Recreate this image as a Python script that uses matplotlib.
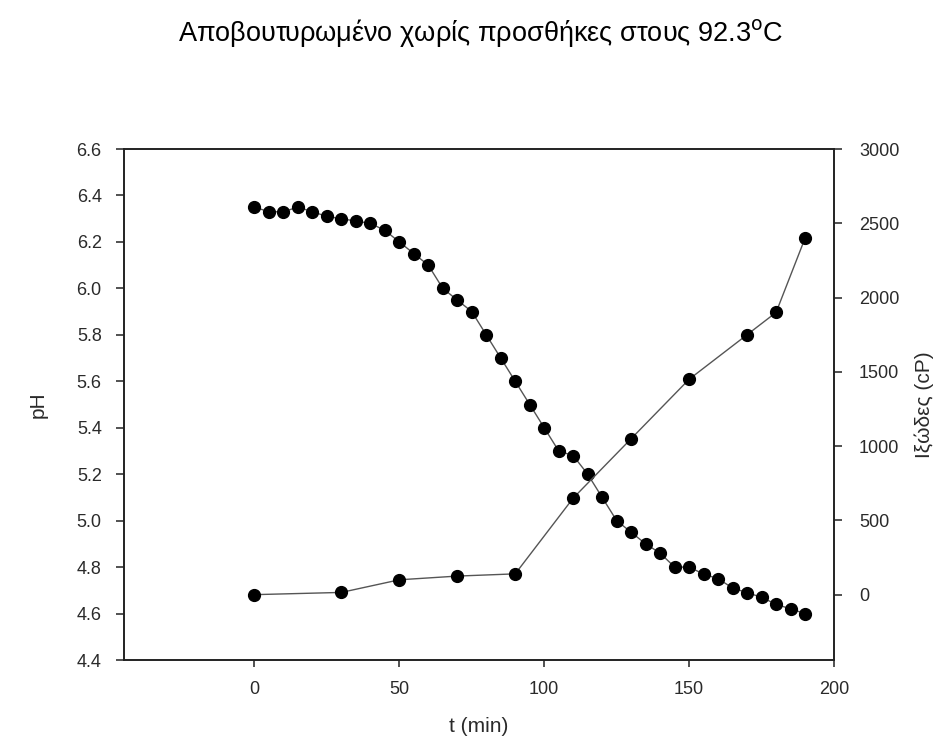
import matplotlib
matplotlib.use('Agg')
import matplotlib.pyplot as plt

plt.rcParams['font.family'] = ['Liberation Sans', 'DejaVu Sans']

# pH vs time (every 5 min)
t_ph = [0, 5, 10, 15, 20, 25, 30, 35, 40, 45, 50, 55, 60, 65, 70, 75, 80, 85, 90, 95,
        100, 105, 110, 115, 120, 125, 130, 135, 140, 145, 150, 155, 160, 165, 170,
        175, 180, 185, 190]
ph = [6.35, 6.33, 6.33, 6.35, 6.33, 6.31, 6.30, 6.29, 6.28, 6.25, 6.20, 6.15, 6.10,
      6.00, 5.95, 5.90, 5.80, 5.70, 5.60, 5.50, 5.40, 5.30, 5.28, 5.20, 5.10, 5.00,
      4.95, 4.90, 4.86, 4.80, 4.80, 4.77, 4.75, 4.71, 4.69, 4.67, 4.64, 4.62, 4.60]

# viscosity vs time
t_visc = [0, 30, 50, 70, 90, 110, 130, 150, 170, 180, 190]
visc = [0, 15, 100, 125, 140, 650, 1050, 1450, 1750, 1900, 2400]

fig = plt.figure(figsize=(9.42, 7.40), dpi=100)
ax = fig.add_axes([0.1316, 0.1081, 0.7538, 0.6905])
ax2 = ax.twinx()

line_kw = dict(color='#555555', lw=1.0, marker='o', markersize=8.5,
               markerfacecolor='black', markeredgecolor='black')
ax.plot(t_ph, ph, **line_kw)
ax2.plot(t_visc, visc, **line_kw)

ax.set_xlim(-45, 200)
ax.set_ylim(4.4, 6.6)
ax2.set_ylim(-440, 3000)

ax.set_xticks([0, 50, 100, 150, 200])
ax.set_yticks([4.4, 4.6, 4.8, 5.0, 5.2, 5.4, 5.6, 5.8, 6.0, 6.2, 6.4, 6.6])
ax.set_yticklabels(['%.1f' % v for v in ax.get_yticks()])
ax2.set_yticks([0, 500, 1000, 1500, 2000, 2500, 3000])

for a in (ax, ax2):
    for s in a.spines.values():
        s.set_linewidth(1.2)
        s.set_color('#222222')
    a.tick_params(direction='out', length=6, width=1.1, color='#222222',
                  labelsize=13, labelcolor='#2a2a2a', pad=10)
ax.tick_params(axis='x', length=5)
ax2.tick_params(axis='y', pad=12)

ax.set_ylabel('pH', fontsize=15, color='#2a2a2a')
ax.yaxis.set_label_coords(-0.107, 0.5)
ax.set_xlabel('t (min)', fontsize=15, color='#2a2a2a')
ax.xaxis.set_label_coords(0.5, -0.112)
ax2.set_ylabel('Ιξώδες (cP)', fontsize=15, color='#2a2a2a', rotation=90)
ax2.yaxis.set_label_coords(1.113, 0.5)

fig.text(0.51, 0.955, 'Αποβουτυρωμένο χωρίς προσθήκες στους 92.3$^{\\mathrm{o}}$C',
         ha='center', va='center', fontsize=19.5, color='black')

fig.savefig('out.png', dpi=100)
